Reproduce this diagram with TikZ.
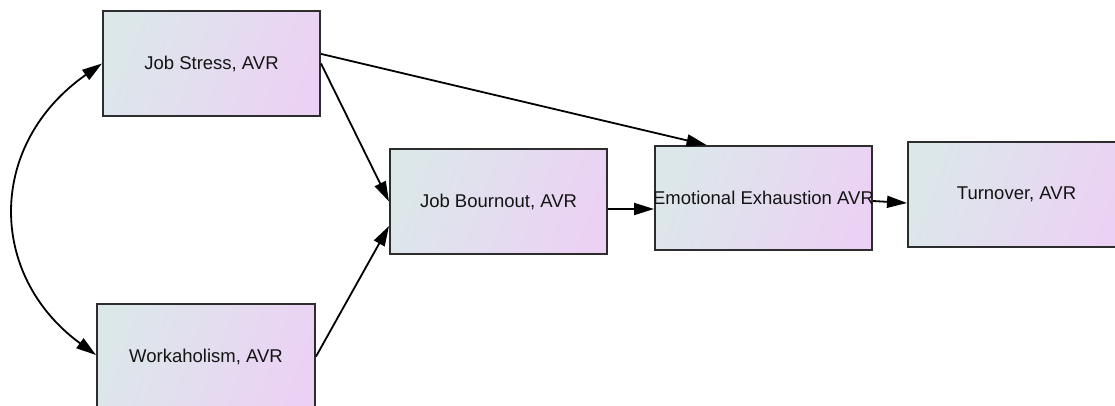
\documentclass[tikz,border=0pt]{standalone}
\usepackage{fontspec}
\setmainfont{Liberation Sans}
\usetikzlibrary{arrows.meta}
\definecolor{shadeA}{RGB}{220,231,234}
\definecolor{shadeB}{RGB}{235,210,244}
\definecolor{boxline}{RGB}{45,45,45}
\definecolor{txt}{RGB}{20,20,20}
\tikzset{
  varbox/.style={draw=boxline, line width=2pt, rectangle,
    left color=shadeA, right color=shadeB, shading angle=70,
    minimum width=217pt, minimum height=105pt, inner sep=0pt,
    font=\fontsize{18.5}{22}\selectfont, text=txt},
  link/.style={line width=1.8pt, draw=black, -{Triangle[length=20pt,width=12pt]}},
  biglink/.style={line width=1.8pt, draw=black, {Triangle[length=20pt,width=12pt]}-{Triangle[length=20pt,width=12pt]}}
}
\begin{document}
\begin{tikzpicture}[x=1pt,y=-1pt]
\useasboundingbox (0,0) rectangle (1115,406);
\clip (0,0) rectangle (1115,406);
\node[varbox] (js) at (211.5,63.5) {Job Stress, AVR};
\node[varbox, minimum width=218pt] (wk) at (206,356.5) {Workaholism, AVR};
\node[varbox] (jb) at (498.5,201.5) {Job Bournout, AVR};
\node[varbox, minimum height=104pt, inner xsep=-5pt] (ee) at (763.5,198) {Emotional Exhaustion AVR};
\node[varbox] (to) at (1016.5,194.5) {Turnover, AVR};
\draw[link] (js.5.5) -- ([xshift=-57pt]ee.north);
\draw[link] (js.east) -- (jb.west);
\draw[link] (wk.east) -- ([yshift=-24.5pt]jb.west);
\draw[link] ([yshift=-7.5pt]jb.east) -- ([yshift=-7.5pt]jb.east -| ee.west);
\draw[link] ([yshift=-3pt]ee.east) -- ([yshift=-8.5pt]to.west);
\draw[biglink] (js.west) .. controls (-13,144) and (-13,275) .. ([yshift=1.5pt]wk.west);
\end{tikzpicture}
\end{document}
